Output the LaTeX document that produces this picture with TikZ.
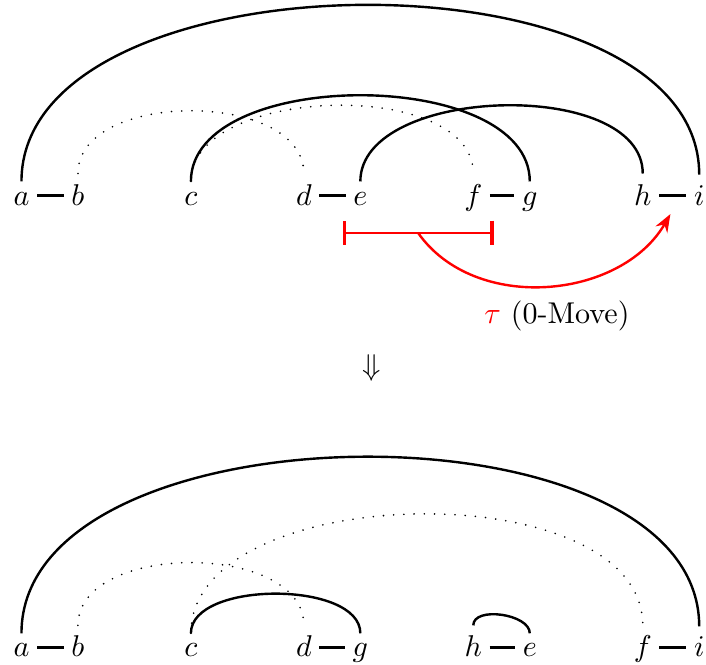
\documentclass[tikz,border=0pt]{standalone}
\usetikzlibrary{arrows.meta}
\tikzset{
  vtx/.style={anchor=base},
  chord/.style={thick, out=90, in=90, looseness=0.87},
  ghost/.style={line width=0.6pt, line cap=round, dash pattern=on 0pt off 3.4pt, out=90, in=90, looseness=0.87},
  pair/.style={thick, shorten <=-1pt, shorten >=-1pt},
  move/.style={red, thick},
}

\begin{document}
\begin{tikzpicture}[x=0.66cm, y=0.66cm]
\useasboundingbox (-0.38,-0.13) rectangle (12.12,11.63);

% before the move
\foreach \n/\x in {a/0,b/1,c/3,d/5,e/6,f/8,g/9,h/11,i/12}
  \node[vtx] (t\n) at (\x,8) {$\n$};
\foreach \p/\q in {a/b,d/e,f/g,h/i}
  \draw[pair] ([yshift=1pt]t\p.mid east) -- ([yshift=1pt]t\q.mid west);

\draw[chord] (ta) to (ti);
\draw[ghost, looseness=0.95] (tb) to (td);
\draw[ghost] (tc) to (tf);
\draw[chord] (tc) to (tg);
\draw[chord] (te) to (th);

% the move
\coordinate (lo) at (5.69,7.51);
\coordinate (hi) at (8.36,7.51);
\coordinate (mid) at (7.02,7.51);
\coordinate (dest) at (11.49,7.84);
\draw[move, {Bar[width=8pt, line width=1.1pt]}-{Bar[width=8pt, line width=1.1pt]}] (lo) -- (hi);
\draw[move, -{Stealth[length=6pt, width=4.5pt, inset=2pt]}] (mid) to[out=-55, in=-120] (dest);
\node (tau) at (9.48,6.03) {\textcolor{red}{$\tau$} (0-Move)};

\node (down) at (6.2,5.12) {$\Downarrow$};

% after the move
\foreach \n/\x in {a/0,b/1,c/3,d/5,g/6,h/8,e/9,f/11,i/12}
  \node[vtx] (b\n) at (\x,0) {$\n$};
\foreach \p/\q in {a/b,d/g,h/e,f/i}
  \draw[pair] ([yshift=1pt]b\p.mid east) -- ([yshift=1pt]b\q.mid west);

\draw[chord] (ba) to (bi);
\draw[ghost, looseness=0.95] (bb) to (bd);
\draw[ghost] (bc) to (bf);
\draw[chord, looseness=0.8] (bc) to (bg);
\draw[chord] (bh) to (be);
\end{tikzpicture}
\end{document}
